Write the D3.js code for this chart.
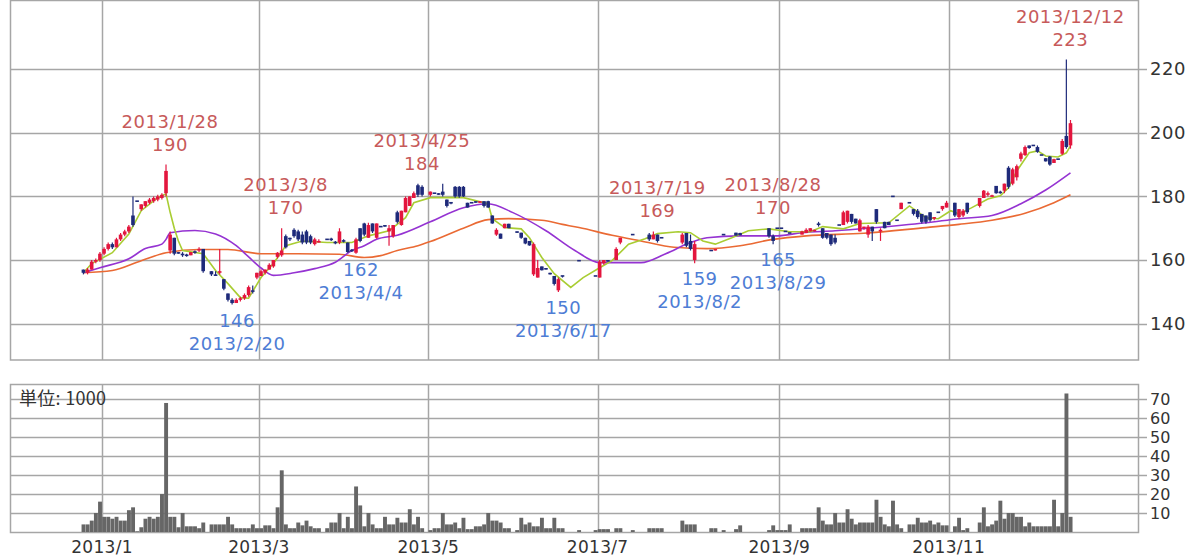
<!DOCTYPE html>
<html><head><meta charset="utf-8">
<script src="https://cdn.jsdelivr.net/npm/d3@7/dist/d3.min.js"></script>
<style>
html,body{margin:0;padding:0;background:#fff;}
svg{display:block;font-family:"DejaVu Sans",sans-serif;}
</style></head>
<body><svg id="chart" width="1200" height="558"></svg>
<script>
// ---------- trading days ----------
const dates = [
"2012-12-21","2012-12-25","2012-12-26","2012-12-27","2012-12-28",
"2013-01-04","2013-01-07","2013-01-08","2013-01-09","2013-01-10","2013-01-11","2013-01-15","2013-01-16","2013-01-17","2013-01-18","2013-01-21","2013-01-22","2013-01-23","2013-01-24","2013-01-25","2013-01-28","2013-01-29","2013-01-30","2013-01-31",
"2013-02-01","2013-02-04","2013-02-05","2013-02-06","2013-02-07","2013-02-08","2013-02-12","2013-02-13","2013-02-14","2013-02-15","2013-02-18","2013-02-19","2013-02-20","2013-02-21","2013-02-22","2013-02-25","2013-02-26","2013-02-27","2013-02-28",
"2013-03-01","2013-03-04","2013-03-05","2013-03-06","2013-03-07","2013-03-08","2013-03-11","2013-03-12","2013-03-13","2013-03-14","2013-03-15","2013-03-18","2013-03-19","2013-03-21","2013-03-22","2013-03-25","2013-03-26","2013-03-27","2013-03-28","2013-03-29",
"2013-04-01","2013-04-02","2013-04-03","2013-04-04","2013-04-05","2013-04-08","2013-04-09","2013-04-10","2013-04-11","2013-04-12","2013-04-15","2013-04-16","2013-04-17","2013-04-18","2013-04-19","2013-04-22","2013-04-23","2013-04-24","2013-04-25","2013-04-26","2013-04-30",
"2013-05-01","2013-05-02","2013-05-07","2013-05-08","2013-05-09","2013-05-10","2013-05-13","2013-05-14","2013-05-15","2013-05-16","2013-05-17","2013-05-20","2013-05-21","2013-05-22","2013-05-23","2013-05-24","2013-05-27","2013-05-28","2013-05-29","2013-05-30","2013-05-31",
"2013-06-03","2013-06-04","2013-06-05","2013-06-06","2013-06-07","2013-06-10","2013-06-11","2013-06-12","2013-06-13","2013-06-14","2013-06-17","2013-06-18","2013-06-19","2013-06-20","2013-06-21","2013-06-24","2013-06-25","2013-06-26","2013-06-27","2013-06-28",
"2013-07-01","2013-07-02","2013-07-03","2013-07-04","2013-07-05","2013-07-08","2013-07-09","2013-07-10","2013-07-11","2013-07-12","2013-07-16","2013-07-17","2013-07-18","2013-07-19","2013-07-22","2013-07-23","2013-07-24","2013-07-25","2013-07-26","2013-07-29","2013-07-30","2013-07-31",
"2013-08-01","2013-08-02","2013-08-05","2013-08-06","2013-08-07","2013-08-08","2013-08-09","2013-08-12","2013-08-13","2013-08-14","2013-08-15","2013-08-16","2013-08-19","2013-08-20","2013-08-21","2013-08-22","2013-08-23","2013-08-26","2013-08-27","2013-08-28","2013-08-29","2013-08-30",
"2013-09-02","2013-09-03","2013-09-04","2013-09-05","2013-09-06","2013-09-09","2013-09-10","2013-09-11","2013-09-12","2013-09-13","2013-09-17","2013-09-18","2013-09-19","2013-09-20","2013-09-24","2013-09-25","2013-09-26","2013-09-27","2013-09-30",
"2013-10-01","2013-10-02","2013-10-03","2013-10-04","2013-10-07","2013-10-08","2013-10-09","2013-10-10","2013-10-11","2013-10-15","2013-10-16","2013-10-17","2013-10-18","2013-10-21","2013-10-22","2013-10-23","2013-10-24","2013-10-25","2013-10-28","2013-10-29","2013-10-30","2013-10-31",
"2013-11-01","2013-11-05","2013-11-06","2013-11-07","2013-11-08","2013-11-11","2013-11-12","2013-11-13","2013-11-14","2013-11-15","2013-11-18","2013-11-19","2013-11-20","2013-11-21","2013-11-22","2013-11-25","2013-11-26","2013-11-27","2013-11-28","2013-11-29",
"2013-12-02","2013-12-03","2013-12-04","2013-12-05","2013-12-06","2013-12-09","2013-12-10","2013-12-11","2013-12-12","2013-12-13"
];

// ---------- OHLC (null = no trade) ----------
const open = [
157,156,157,159.5,160,
162,163.5,165,164,166.5,168,169,174,178.5,176,177,178,178.5,179,179.5,181,163,167,162.5,
162,161.5,161.5,162.5,163,163.5,null,156.5,155.5,156,154,149.5,147.5,146.5,147.5,148,149,150.5,154.5,
155,156,157,158,161,161.5,167.5,167,169.5,169,168,169,167.5,165,165.5,null,166.5,166.5,165.5,165.5,
166,165.5,163,162.3,170,171.5,167,171.5,167,170.5,171,169,167.5,175,171,175,177,179.5,183.5,183,null,
180.5,181,181,181.5,179,178,183,183,183,178,178,178.5,178,178.5,178.5,174,168,168.3,170,171.4,null,
169,168.6,167,166,155.5,154.5,158,157.5,156,155,150.5,155,null,null,null,159.8,null,null,null,155,
154.5,159,160,null,160,165.5,null,null,168,null,null,null,168,166.5,168,167,null,null,null,null,165.5,168.5,
166,160,null,null,null,163,163,null,168,null,null,168.6,168.5,null,null,null,null,null,null,170,167.5,170,
170,169,168.5,null,null,168,168.5,169,169,171.5,170,168.5,168,167,171,171,172,174.5,173,
169,170,168,170.5,176,169,172,172,180,172.5,176,null,178,176,175.5,174.5,174,175,173,175,176,176.5,
null,178,173.5,174,178,null,null,177,179.5,180.5,180,183.3,181.5,181.8,189,184,186,191.8,193,196,
196,195.5,193,192,192.5,190.5,191.7,193.4,199,196
];
const high = [
157,157.5,160,160.5,162.5,
164,165.5,165.5,167,168.5,169.5,171,180,178.5,177.5,178.5,179.5,180,180.5,181,190,169,167,162.5,
162.5,162,162.5,163,164,163.5,null,156.5,156.5,163.5,154,149.5,148,148,148.5,149.5,152,152,156,
157,157,159,160,162.5,170,168,167,170,169.5,169,169.5,168,167,166.5,null,166.5,167,166,170,
166.5,165.5,163.5,167,170,171.7,171.7,171.5,171.5,170.5,171,171,171,175.5,175.5,180,180,181.5,184,183.5,null,
181.5,181,181,184,179,178,183.3,183.3,183.3,178,178,178.5,178.5,178.5,178.6,174,170,168.3,171.4,171.4,null,
169,168.6,167,166,165.5,160,158,157.5,156,155,154.5,155,null,null,null,159.8,null,null,null,155,
160,160,160,null,164,167,null,null,168,null,null,null,168.5,169,168,167,null,null,null,null,168.5,168.5,
168,166,null,null,null,163,163.5,null,168,null,null,168.6,168.6,null,null,null,null,null,null,170,168,170,
170,169,168.5,null,null,169.2,170,170,169.5,172,170,168.5,168,168,171,175.5,175.5,174.5,173,
173,170.5,171,170.5,176,170,172,172,180,172.5,178,null,178,176,176,174.5,174,175,173.5,175,177,178.6,
null,178,176,176,178,null,null,179.5,182,181.5,180.5,183.3,181.8,184,189.5,189,190,194,196,196,
196,196,193,192,192.7,191.8,191.7,198,223,204
];
const low = [
155.5,155.5,157,159,159.5,
161.5,163,163.5,164,166,167.5,168.5,170.5,178.5,175.5,176.5,177.5,178,178.5,179,180,162,161.5,162,
161,161,161.5,162,162.5,156,null,155,155,155.5,150.5,147,146,146.5,147,147.5,148.5,149.5,154,
155,155.5,157,157.6,160.5,161,163.6,166,167,166,165,165,165,164.6,165.5,null,166.5,166,165,165,
165.5,162.3,162.5,162,165.6,167.5,167,168.5,166.7,170.5,170.5,164.5,167,171.5,170.8,175,177,179.5,179.8,180,null,
180,181,180.5,180,176.5,177.5,179.6,179.6,179.8,176.5,178,178,178,176.5,176.4,171.4,167.6,166.7,170,170,null,
168.5,166.7,165,164.5,155,154.5,156.7,157,155.5,152,150,154.5,null,null,null,159.8,null,null,null,155,
154.5,158.5,159.5,null,160,165,null,null,168,null,null,null,166,166.5,165.5,167,null,null,null,null,165,164,
163,159,null,null,null,163,163,null,168,null,null,167.7,167.8,null,null,null,null,null,null,167,165,170,
170,169,168.5,null,null,168,168.5,169,169,170.5,166.7,166.5,164.5,165,171,171,171.5,171.4,171.5,
169,169.5,167,166,171.4,166,170,171,180,172.5,176,null,178,174,173,171.5,171.4,172,172.5,175,175.5,176.5,
null,173.5,173,173.5,174.5,null,null,176.5,179.5,180,180,180.8,180.8,181,182.4,183.5,185,191,192.7,195,
196,193.7,193,191,189.6,190.5,191.7,193,195,195
];
const close = [
156,157,159.5,160,162,
163.5,165,164,166.5,168,169,170.5,171,178.5,177.5,178.5,179,179.5,180,180.5,188,168,162,162,
161.5,161.5,162.5,162.5,163.5,156.5,null,155.5,155,156.5,151,147.5,146.5,147.5,148,149,151.5,150,156,
156.5,157,158.5,160,162.3,163,164,166.5,167.5,166.5,165.5,165.5,165.5,166.5,166,null,166.5,166.5,165.5,169,
166,162.5,163,166.5,166,168,171,169,171.5,170.5,170.5,170,171,172,175.5,179.5,180,181,180.5,180.5,null,
181.5,181,180.5,180.5,177,178,180,180,180,176.5,178,178,178.5,177,176.5,171.5,169.5,166.7,171.4,170,null,
168.6,167,165.2,164.6,165,157.5,156.8,157,155.5,152.5,154,155,null,null,null,159.8,null,null,null,155,
159.5,160,159.5,null,163.5,167,null,null,168,null,null,null,166.5,168,166,167,null,null,null,null,168,164.5,
163.5,165,null,null,null,163,163.5,null,168,null,null,167.7,167.8,null,null,null,null,null,null,167.5,166,170,
170,169,168.5,null,null,169,169.5,170,169.5,171,167,167,165,165.5,171,175,175.5,172,171.5,
172.5,170.5,170.5,169,172,169.5,170,171,180,172.5,178,null,178,174.5,173.5,172,172,172.5,173.5,175,177,178,
null,174,176,175.5,175,null,null,179.5,181.8,181,180.2,181,181,184,183,188.5,189.5,193.5,195.5,195.2,
196,194,193,191,190,191.7,191.7,197.4,195.5,203
];
// volume, unit 1000 shares
const volume = [
4,4,6,10,16,
8,8,7,8,6,6,11.5,13,0.4,2.5,7,8,7,8,20,68,8,8,2.5,
10,3,3,3,2,5,null,4,4,4,4,8,4,2,2,2,2,4,2,
2,3.5,3.5,2,13,32.5,4,2,2,5,3.5,6,3,2,2,null,2,5,5,10,
2,8,2,24,14,3,10,4,2,2,8,4,4,7.5,5,5,12,4,8,2,null,
1,2,2,10,4,4,5,2,7.5,1.5,1.5,3,3,4,10,6,6,5,2,2,null,
1,7.5,4,5,3,3,7.5,2,2,7.5,2,2,null,null,null,1,null,null,null,1,
1.5,1.5,1.5,null,2,2,null,null,1,null,null,null,2,2,2,2,null,null,null,null,6,4,
4,4,null,null,null,2,2,null,1,null,null,1.5,3.5,null,null,null,null,null,null,1,3.5,1,
1,1,4,null,null,2,2,2,2,13,6,4,4,10,5,5,12,7,4,
5,5,5,5,17,8,4,3,16.5,4,2,null,4,4,7.5,5,5,6,4,5,3.5,3.5,
null,3,7.5,1,2,null,null,5,13,3,4,6,16.5,7,10,10,8,8,3,5,
3,3,3,3,3,17,3,10,73,8
];

// ---------- moving averages ----------
const ma5Dates = ["2012-12-21","2012-12-26","2013-01-08","2013-01-15","2013-01-18","2013-01-24","2013-01-28","2013-01-29","2013-01-30","2013-01-31","2013-02-01","2013-02-08","2013-02-14","2013-02-19","2013-02-22","2013-02-26","2013-03-01","2013-03-06","2013-03-11","2013-03-15","2013-03-26","2013-04-03","2013-04-09","2013-04-16","2013-04-22","2013-04-24","2013-05-01","2013-05-15","2013-05-23","2013-05-24","2013-05-29","2013-06-04","2013-06-06","2013-06-11","2013-06-14","2013-06-20","2013-06-25","2013-07-01","2013-07-04","2013-07-10","2013-07-17","2013-07-22","2013-07-29","2013-08-01","2013-08-06","2013-08-09","2013-08-15","2013-08-21","2013-08-28","2013-09-04","2013-09-11","2013-09-17","2013-09-25","2013-10-01","2013-10-10","2013-10-18","2013-10-24","2013-10-29","2013-11-01","2013-11-06","2013-11-11","2013-11-15","2013-11-20","2013-11-22","2013-11-26","2013-11-29","2013-12-03","2013-12-05","2013-12-10","2013-12-12","2013-12-13"];
const ma5Values = [156,158.9,162.3,168.2,175.5,179.6,180.8,175,170,166,163,162,156.7,152.6,148.2,148,154.5,158.9,164.5,166,165.5,165.5,167.6,169.2,173.3,178,179.6,179.6,177.7,173,170.2,169.8,167,160.8,155.7,151.4,154.5,157.6,159.8,165,166.7,168.3,168.9,168.6,166,165,167,169.2,169.8,168.9,168.9,170.5,169.8,171.5,171.7,177,173.3,173,175.5,174.5,176.4,179.2,180.2,182.7,188,193.7,194.3,192.7,192.4,193.7,195.9];

const ma25Dates = ["2012-12-21","2012-12-28","2013-01-15","2013-01-21","2013-01-25","2013-01-28","2013-01-29","2013-02-06","2013-02-14","2013-02-21","2013-02-26","2013-03-01","2013-03-06","2013-03-13","2013-03-21","2013-03-28","2013-04-03","2013-04-08","2013-04-11","2013-04-18","2013-05-01","2013-05-15","2013-05-23","2013-05-31","2013-06-12","2013-06-21","2013-07-01","2013-07-16","2013-07-24","2013-08-01","2013-08-07","2013-08-19","2013-08-30","2013-09-09","2013-09-20","2013-10-03","2013-10-24","2013-11-06","2013-11-18","2013-11-27","2013-12-05","2013-12-13"];
const ma25Values = [156,157.6,160.4,163.6,165,166.5,168.6,169.3,168.2,164.5,161,157.5,155.2,156,157.3,159.3,163,164.5,166.5,167.8,172,176.4,177.7,174.9,169.2,163,159.2,159.2,162,165.5,167,167.6,167.6,168.6,169.2,170,171.7,173,174,177.7,182,187.4];

const ma75Dates = ["2012-12-21","2013-01-08","2013-01-18","2013-01-28","2013-02-07","2013-02-19","2013-03-01","2013-03-14","2013-03-29","2013-04-08","2013-04-12","2013-04-18","2013-04-25","2013-05-01","2013-05-15","2013-05-23","2013-05-30","2013-06-11","2013-06-18","2013-06-24","2013-07-04","2013-07-16","2013-07-26","2013-08-07","2013-08-19","2013-08-29","2013-09-10","2013-10-02","2013-10-24","2013-11-06","2013-11-18","2013-11-28","2013-12-09","2013-12-13"];
const ma75Values = [156,156.7,159.8,162.3,163.3,163.3,162,162,161.8,160.8,161.4,163,164.5,165.8,170,172.7,173,172.5,171.2,170.2,167.8,166,164,163.6,164.5,166.5,167.6,168.4,170.2,171.2,172.5,174.7,178,180.5];

// ---------- annotations ----------
const peakDates = ["2013-01-28","2013-03-08","2013-04-25","2013-07-19","2013-08-28","2013-12-12"];
const peakValues = [190,170,184,169,170,223];
const troughDates = ["2013-02-20","2013-04-04","2013-06-17","2013-08-02","2013-08-29"];
const troughValues = [146,162,150,159,165];

// ---------- axes ----------
const priceTicks = [140,160,180,200,220];
const volumeTicks = [10,20,30,40,50,60,70];
const monthTickKeys = ["2013-01","2013-03","2013-05","2013-07","2013-09","2013-11"];
const monthTickLabels = ["2013/1","2013/3","2013/5","2013/7","2013/9","2013/11"];
const volumeUnitLabel = "単位: 1000";

// ---------- drawing ----------
const svg = d3.select("#chart");
const L = 10, R = 1138;
const mainTop = 1, mainBot = 360, volTop = 384, volBot = 532;
const n = dates.length;
const xi = d3.scaleLinear().domain([0, n]).range([81.35, 81.35 + 4.13 * n]);
const y = d3.scaleLinear().domain([128.6, 241.7]).range([mainBot, 0]);
const yv = d3.scaleLinear().domain([0, 78]).range([volBot, volTop]);
const index = new Map(dates.map((d, i) => [d, i]));
const cx = d => xi(index.get(d) + 0.5);

const GRID = "#a6a6a6";
const RED = "#e3163e", BLUE = "#1e2a7a";

// month gridlines (both panels)
const monthIdx = monthTickKeys.map(k => dates.findIndex(d => d.startsWith(k)));
const g0 = svg.append("g");
monthIdx.forEach(i => {
  const xx = Math.round(xi(i)) + 0.5;
  g0.append("line").attr("x1", xx).attr("x2", xx).attr("y1", mainTop).attr("y2", mainBot)
    .attr("stroke", GRID).attr("stroke-width", 1.5);
  g0.append("line").attr("x1", xx).attr("x2", xx).attr("y1", volTop).attr("y2", volBot)
    .attr("stroke", GRID).attr("stroke-width", 1.5);
});
// price gridlines + right axis
priceTicks.forEach(t => {
  const yy = Math.round(y(t)) + 0.5;
  g0.append("line").attr("x1", L).attr("x2", R + 9).attr("y1", yy).attr("y2", yy)
    .attr("stroke", GRID).attr("stroke-width", 1.5);
});
const axR = svg.append("g").attr("transform", `translate(${R + 12},0)`)
  .call(d3.axisRight(y).tickValues(priceTicks).tickSize(0).tickPadding(0));
axR.select(".domain").remove();
axR.selectAll("text").attr("font-size", 18).attr("fill", "#333").attr("font-family", "DejaVu Sans")
   .attr("letter-spacing", "0.5px");

volumeTicks.forEach(t => {
  const yy = Math.round(yv(t)) + 0.5;
  g0.append("line").attr("x1", L).attr("x2", R + 9).attr("y1", yy).attr("y2", yy)
    .attr("stroke", GRID).attr("stroke-width", 1.5);
});
const axV = svg.append("g").attr("transform", `translate(${R + 12},0)`)
  .call(d3.axisRight(yv).tickValues(volumeTicks).tickSize(0).tickPadding(0));
axV.select(".domain").remove();
axV.selectAll("text").attr("font-size", 16).attr("fill", "#333").attr("font-family", "DejaVu Sans");

// frames
svg.append("rect").attr("x", L + 0.5).attr("y", mainTop - 0.5).attr("width", R - L).attr("height", mainBot - mainTop + 0.5)
  .attr("fill", "none").attr("stroke", GRID).attr("stroke-width", 1.5);
svg.append("rect").attr("x", L + 0.5).attr("y", volTop + 0.5).attr("width", R - L).attr("height", volBot - volTop)
  .attr("fill", "none").attr("stroke", GRID).attr("stroke-width", 1.5);

// bottom month labels
monthIdx.forEach((i, k) => {
  svg.append("text").attr("x", xi(i)).attr("y", 553).attr("text-anchor", "middle")
    .attr("font-size", 17).attr("fill", "#333").attr("letter-spacing", "0.3px").text(monthTickLabels[k]);
});

// volume unit
svg.append("text").attr("x", 19).attr("y", 405).attr("font-size", 18).attr("fill", "#333")
  .attr("font-family", "'Noto Sans CJK JP', 'DejaVu Sans', sans-serif").attr("letter-spacing", "0.3px").text(volumeUnitLabel);

// volume bars
const vb = svg.append("g");
volume.forEach((v, i) => {
  if (v == null) return;
  vb.append("rect").attr("x", xi(i) + 0.2).attr("width", 3.9)
    .attr("y", yv(v)).attr("height", volBot - yv(v)).attr("fill", "#666");
});

// moving average lines
const lineGen = (curve) => d3.line().x(d => cx(d[0])).y(d => y(d[1])).curve(curve);
const mas = [
  [ma75Dates, ma75Values, "#ea6a34", d3.curveMonotoneX],
  [ma25Dates, ma25Values, "#9533d2", d3.curveMonotoneX],
  [ma5Dates, ma5Values, "#a9cd33", d3.curveLinear]
];
mas.forEach(([ds, vs, col, curve]) => {
  svg.append("path").datum(ds.map((d, i) => [d, vs[i]]))
    .attr("d", lineGen(curve)).attr("fill", "none").attr("stroke", col).attr("stroke-width", 1.6);
});

// candles
const cg = svg.append("g");
dates.forEach((d, i) => {
  const o = open[i], h = high[i], l = low[i], c = close[i];
  if (o == null) return;
  const col = c > o ? RED : BLUE;
  const x0 = xi(i + 0.5);
  cg.append("line").attr("x1", x0).attr("x2", x0).attr("y1", y(h)).attr("y2", y(l))
    .attr("stroke", col).attr("stroke-width", 1.2);
  const top = y(Math.max(o, c)), bot = y(Math.min(o, c));
  const hgt = Math.max(1.6, bot - top);
  cg.append("rect").attr("x", x0 - 1.8).attr("width", 3.6)
    .attr("y", hgt === 1.6 ? (top + bot) / 2 - 0.8 : top).attr("height", hgt).attr("fill", col);
});

// annotations
const fmt = s => { const p = s.split("-"); return `${+p[0]}/${+p[1]}/${+p[2]}`; };
peakDates.forEach((d, k) => {
  const xx = cx(d) + 4, yy = y(peakValues[k]);
  svg.append("text").attr("x", xx).attr("y", yy - 37).attr("text-anchor", "middle")
    .attr("font-size", 18).attr("fill", "#c75a5a").attr("letter-spacing", "0.5px").text(fmt(d));
  svg.append("text").attr("x", xx).attr("y", yy - 14).attr("text-anchor", "middle")
    .attr("font-size", 18).attr("fill", "#c75a5a").attr("letter-spacing", "0.5px").text(peakValues[k]);
});
troughDates.forEach((d, k) => {
  const xx = cx(d) + 5, yy = y(troughValues[k]);
  svg.append("text").attr("x", xx).attr("y", yy + 22).attr("text-anchor", "middle")
    .attr("font-size", 18).attr("fill", "#4e7dd5").attr("letter-spacing", "0.5px").text(troughValues[k]);
  svg.append("text").attr("x", xx).attr("y", yy + 45).attr("text-anchor", "middle")
    .attr("font-size", 18).attr("fill", "#4e7dd5").attr("letter-spacing", "0.5px").text(fmt(d));
});
</script>
</body></html>
